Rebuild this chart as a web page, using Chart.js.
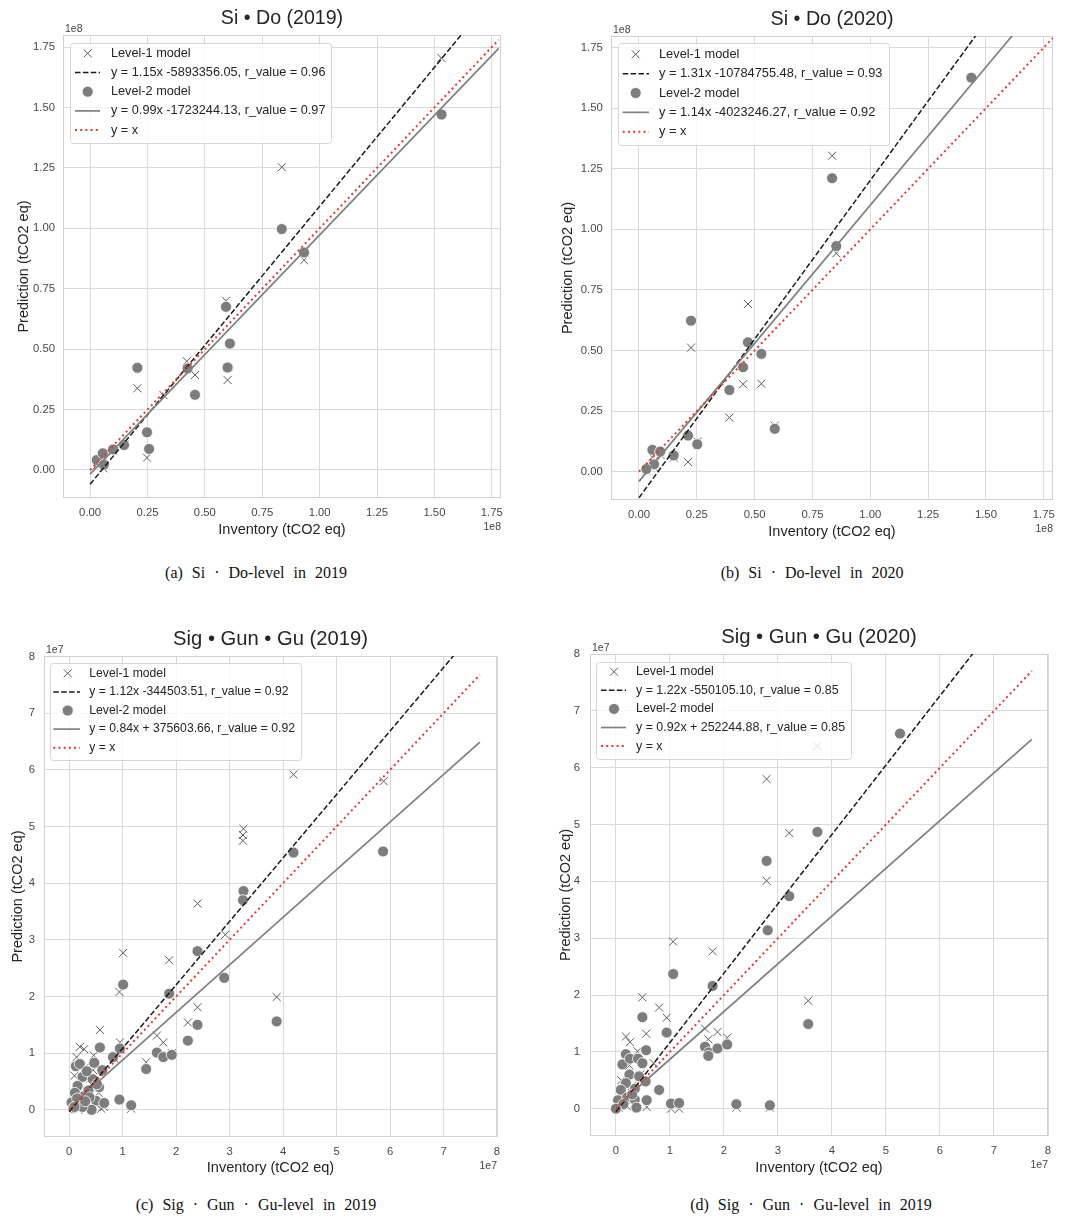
<!DOCTYPE html>
<html>
<head>
<meta charset="utf-8">
<script src="https://cdn.jsdelivr.net/npm/chart.js@4.4.1/dist/chart.umd.min.js"></script>
<style>
html,body{margin:0;padding:0;background:#fff;}
body{width:1074px;height:1224px;position:relative;overflow:hidden;}
canvas{position:absolute;}
.cap{position:absolute;width:500px;text-align:center;font-family:"Liberation Serif","Times New Roman",serif;font-size:16px;line-height:20px;color:#111;word-spacing:5px;white-space:pre;}
</style>
</head>
<body>
<canvas id="ca"></canvas>
<canvas id="cb"></canvas>
<canvas id="cc"></canvas>
<canvas id="cd"></canvas>
<div class="cap" style="left:6px;top:563px">(a) Si · Do-level in 2019</div>
<div class="cap" style="left:562px;top:563px">(b) Si · Do-level in 2020</div>
<div class="cap" style="left:6px;top:1195px">(c) Sig · Gun · Gu-level in 2019</div>
<div class="cap" style="left:561px;top:1195px">(d) Sig · Gun · Gu-level in 2019</div>
<script>
// ================= DATA =================
const seriesNames = ['Level-1 model', 'Level-2 model', 'y = x'];
const xAxisTitle = 'Inventory (tCO2 eq)';
const yAxisTitle = 'Prediction (tCO2 eq)';

// Tick values (display units)
const siDoTicks = [0, 0.25, 0.5, 0.75, 1.0, 1.25, 1.5, 1.75];   // x 1e8
const sggTicks  = [0, 1, 2, 3, 4, 5, 6, 7, 8];                   // x 1e7

// ---- (a) Si·Do 2019  (units of 1e8 tCO2 eq)
const a_L1_inv  = [1.530, 0.835, 0.932, 0.592, 0.599, 0.206, 0.421, 0.457, 0.248, 0.148, 0.058, 0.029, 0.055, 0.100, 0.320];
const a_L1_pred = [1.705, 1.253, 0.868, 0.700, 0.372, 0.338, 0.450, 0.393, 0.051, 0.105, 0.007, 0.020, 0.030, 0.080, 0.310];
const a_L2_inv  = [1.531, 0.835, 0.932, 0.592, 0.609, 0.599, 0.206, 0.425, 0.457, 0.248, 0.257, 0.148, 0.029, 0.055, 0.100, 0.060];
const a_L2_pred = [1.471, 0.997, 0.900, 0.675, 0.523, 0.424, 0.423, 0.420, 0.311, 0.156, 0.087, 0.103, 0.041, 0.069, 0.085, 0.022];
const a_slopes = [1.15, 0.99];                       // legend fit (Level-1, Level-2)
const a_intercepts = [-5893356.05, -1723244.13];
const a_r = [0.96, 0.97];

// ---- (b) Si·Do 2020  (units of 1e8 tCO2 eq)
const b_L1_inv  = [0.835, 0.853, 0.471, 0.225, 0.450, 0.529, 0.391, 0.587, 0.212, 0.252, 0.150, 0.058, 0.065, 0.032, 0.092];
const b_L1_pred = [1.304, 0.901, 0.692, 0.512, 0.361, 0.363, 0.223, 0.190, 0.040, 0.125, 0.058, 0.060, 0.018, 0.005, 0.070];
const b_L2_inv  = [1.437, 0.835, 0.853, 0.225, 0.471, 0.529, 0.450, 0.391, 0.587, 0.212, 0.252, 0.150, 0.058, 0.065, 0.032, 0.092];
const b_L2_pred = [1.626, 1.211, 0.931, 0.623, 0.534, 0.486, 0.431, 0.337, 0.177, 0.149, 0.113, 0.067, 0.090, 0.030, 0.011, 0.083];
const b_slopes = [1.31, 1.14];
const b_intercepts = [-10784755.48, -4023246.27];
const b_r = [0.93, 0.92];

// ---- (c) Sig·Gun·Gu 2019  (units of 1e7 tCO2 eq)
const c_L1_inv  = [4.195, 5.88, 3.26, 3.25, 3.25, 2.40, 2.92, 1.01, 0.94, 1.87, 2.40, 2.22, 3.88, 1.64, 1.76, 1.92, 1.44, 0.575, 0.95, 1.16,
                   0.14, 0.20, 0.28, 0.46, 0.10, 0.30, 0.40, 0.55, 0.65, 0.25, 0.35, 0.50, 0.20, 0.05, 0.15, 0.45, 0.60, 0.30, 0.12, 0.85];
const c_L1_pred = [5.92, 5.80, 4.96, 4.85, 4.75, 3.64, 3.09, 2.77, 2.08, 2.64, 1.81, 1.54, 1.99, 1.31, 1.19, 1.00, 0.84, 1.41, 1.19, 0.02,
                   0.93, 1.11, 1.07, 0.96, 0.60, 0.75, 0.55, 0.30, 0.05, 0.30, 0.20, 0.10, 0.45, 0.05, 0.15, 0.70, 0.02, 0.00, 0.25, 0.90];
const c_L2_inv  = [4.195, 5.87, 3.26, 3.25, 2.40, 2.90, 1.01, 1.87, 2.40, 2.22, 3.88, 1.64, 1.76, 1.92, 1.44, 0.575, 0.95, 0.82, 0.94, 1.16,
                   0.125, 0.20, 0.47, 0.25, 0.44, 0.56, 0.157, 0.107, 0.045, 0.20, 0.50, 0.655, 0.42, 0.29, 0.36, 0.08, 0.33, 0.15, 0.52, 0.38, 0.25, 0.10, 0.30, 0.62];
const c_L2_pred = [4.54, 4.56, 3.86, 3.70, 2.80, 2.33, 2.21, 2.05, 1.50, 1.22, 1.56, 1.01, 0.93, 0.97, 0.72, 1.10, 1.08, 0.93, 0.18, 0.08,
                   0.77, 0.81, 0.83, 0.58, 0.54, 0.40, 0.42, 0.30, 0.13, 0.11, 0.16, 0.12, 0.00, 0.25, 0.34, 0.03, 0.68, 0.20, 0.45, 0.22, 0.05, 0.05, 0.15, 0.70];
const c_slopes = [1.12, 0.84];
const c_intercepts = [-344503.51, 375603.66];
const c_r = [0.92, 0.92];

// ---- (d) Sig·Gun·Gu 2020  (units of 1e7 tCO2 eq)
const d_L1_inv  = [3.73, 2.79, 3.21, 2.79, 1.06, 1.79, 0.49, 0.80, 0.94, 0.56, 3.56, 1.65, 1.71, 1.88, 2.06, 2.23, 2.85, 1.02, 1.17, 0.57,
                   0.185, 0.26, 0.40, 0.25, 0.10, 0.30, 0.15, 0.45, 0.35, 0.05, 0.20, 0.70];
const d_L1_pred = [6.38, 5.80, 4.85, 4.01, 2.94, 2.77, 1.96, 1.78, 1.60, 1.32, 1.90, 1.41, 1.22, 1.35, 1.25, 0.02, 0.02, 0.00, 0.00, 0.03,
                   1.27, 1.17, 1.01, 0.76, 0.50, 0.40, 0.20, 0.60, 0.10, 0.02, 0.05, 0.80];
const d_L2_inv  = [5.26, 3.73, 2.79, 3.21, 2.81, 1.06, 1.79, 0.49, 0.80, 0.94, 0.56, 3.56, 1.65, 1.72, 1.71, 1.88, 2.06, 2.23, 2.85, 1.02,
                   1.17, 0.57, 0.185, 0.12, 0.26, 0.41, 0.49, 0.25, 0.43, 0.185, 0.09, 0.35, 0.04, 0.21, 0.35, 0.38, 0.14, 0.00, 0.30, 0.55];
const d_L2_pred = [6.60, 4.87, 4.36, 3.74, 3.14, 2.37, 2.16, 1.61, 0.33, 1.34, 1.03, 1.49, 1.09, 0.99, 0.93, 1.06, 1.13, 0.08, 0.06, 0.09,
                   0.10, 0.15, 0.96, 0.78, 0.88, 0.88, 0.80, 0.60, 0.57, 0.45, 0.33, 0.35, 0.15, 0.20, 0.16, 0.02, 0.08, 0.00, 0.25, 0.48];
const d_slopes = [1.22, 0.92];
const d_intercepts = [-550105.10, 252244.88];
const d_r = [0.85, 0.85];
// In panel (d) the solid Level-2 line drawn in the figure is shallower than its legend text:
const d_drawnSlopes = [1.22, 0.84];
const d_drawnIntercepts = [-550105.10, 300000];

// ================= RENDERING =================
const FONT = '"Liberation Sans", Arial, Helvetica, sans-serif';
Chart.defaults.font.family = FONT;

function pts(xs, ys) { return xs.map((x, i) => ({x: x, y: ys[i]})); }
function fitLabel(s, b, r) {
  const bs = b < 0 ? '-' + Math.abs(b).toFixed(2) : '+ ' + b.toFixed(2);
  return 'y = ' + s.toFixed(2) + 'x ' + bs + ', r_value = ' + r.toFixed(2);
}
function fitLine(s, b, unit, end) { return [{x: 0, y: b / unit}, {x: end, y: s * end + b / unit}]; }

const mplDecor = {
  id: 'mplDecor',
  beforeDatasetsDraw(chart) {
    const {ctx, chartArea: a} = chart;
    ctx.save();
    ctx.strokeStyle = '#d2d2d2'; ctx.lineWidth = 1;
    ctx.strokeRect(Math.round(a.left) + 0.5, Math.round(a.top) + 0.5, Math.round(a.right - a.left) - 1, Math.round(a.bottom - a.top) - 1);
    ctx.restore();
  },
  afterDraw(chart) {
    const o = chart.$decor;
    const {ctx, chartArea: a} = chart;
    ctx.save();
    ctx.fillStyle = '#262626';
    ctx.font = o.titleSize + 'px ' + FONT;
    ctx.textAlign = 'center'; ctx.textBaseline = 'middle';
    ctx.fillText(o.title, (a.left + a.right) / 2, a.top - 16.5);
    ctx.font = '10.5px ' + FONT; ctx.fillStyle = '#444';
    ctx.textAlign = 'left';
    ctx.fillText(o.offsetText, a.left + 2, a.top - 6);
    ctx.textAlign = 'right';
    ctx.fillText(o.offsetText, a.right, a.bottom + 29);
    const L = o.legend;
    const ds = chart.data.datasets;
    ctx.font = L.size + 'px ' + FONT;
    let maxW = 0;
    ds.forEach(d => { maxW = Math.max(maxW, ctx.measureText(d.label).width); });
    const bx = a.left + L.boxDx, by = a.top + L.boxDy;
    const tx = a.left + L.textDx;
    const bw = tx + maxW + 6 - bx;
    const lastRow = a.top + L.row0 + L.rowH * (ds.length - 1);
    const bh = lastRow + L.rowH * 0.68 - by;
    ctx.beginPath();
    if (ctx.roundRect) ctx.roundRect(Math.round(bx) + 0.5, Math.round(by) + 0.5, Math.round(bw), Math.round(bh), 3);
    else ctx.rect(Math.round(bx) + 0.5, Math.round(by) + 0.5, Math.round(bw), Math.round(bh));
    ctx.fillStyle = 'rgba(255,255,255,0.8)'; ctx.fill();
    ctx.strokeStyle = '#d6d6d6'; ctx.lineWidth = 1; ctx.stroke();
    ds.forEach((d, i) => {
      const y = a.top + L.row0 + L.rowH * i;
      const mx = a.left + L.markerDx;
      ctx.setLineDash([]);
      if (d.legendKind === 'cross') {
        const h = 4;
        ctx.strokeStyle = d.pointBorderColor; ctx.lineWidth = 1;
        ctx.beginPath();
        ctx.moveTo(mx - h, y - h); ctx.lineTo(mx + h, y + h);
        ctx.moveTo(mx + h, y - h); ctx.lineTo(mx - h, y + h);
        ctx.stroke();
      } else if (d.legendKind === 'circle') {
        ctx.beginPath(); ctx.arc(mx, y, d.pointRadius, 0, Math.PI * 2);
        ctx.fillStyle = d.pointBackgroundColor; ctx.fill();
        ctx.strokeStyle = '#fff'; ctx.lineWidth = 0.8; ctx.stroke();
      } else {
        ctx.strokeStyle = d.borderColor; ctx.lineWidth = d.borderWidth;
        ctx.setLineDash(d.borderDash || []);
        ctx.beginPath();
        ctx.moveTo(a.left + L.h0, y); ctx.lineTo(a.left + L.h1, y);
        ctx.stroke();
        ctx.setLineDash([]);
      }
      ctx.fillStyle = '#262626'; ctx.textAlign = 'left'; ctx.textBaseline = 'middle';
      ctx.font = L.size + 'px ' + FONT;
      ctx.fillText(d.label, tx, y);
    });
    ctx.restore();
  }
};

function makeChart(p) {
  const g = p.geo;
  const cv = document.getElementById(p.id);
  cv.width = g.cw; cv.height = g.ch;
  cv.style.left = g.cx + 'px'; cv.style.top = g.cy + 'px';
  cv.style.width = g.cw + 'px'; cv.style.height = g.ch + 'px';
  const axisFont = 14.5, lh = axisFont * 1.2;
  const tickFont = {size: 11.3, family: FONT};
  const dec = p.decimals;
  const ls = p.lineSlopes || p.slopes, li = p.lineIntercepts || p.intercepts;
  return new Chart(cv, {
    type: 'scatter',
    data: {
      datasets: [
        {label: seriesNames[0], legendKind: 'cross', data: pts(p.l1x, p.l1y),
         pointStyle: 'crossRot', pointRadius: 5.7, pointHoverRadius: 5.7, pointBorderWidth: 1,
         pointBorderColor: '#5e5e5e', pointBackgroundColor: 'rgba(0,0,0,0)', order: 5},
        {label: fitLabel(p.slopes[0], p.intercepts[0], p.r[0]), legendKind: 'line',
         data: fitLine(ls[0], li[0], p.unit, p.lineEnd), showLine: true,
         borderColor: '#1a1a1a', borderWidth: 1.5, borderDash: [5.5, 2.4], pointRadius: 0, pointHoverRadius: 0, order: 3},
        {label: seriesNames[1], legendKind: 'circle', data: pts(p.l2x, p.l2y),
         pointStyle: 'circle', pointRadius: 5.5, pointHoverRadius: 5.5, pointBorderWidth: 0.8,
         pointBorderColor: '#ffffff', pointBackgroundColor: '#7d7d7d', order: 4},
        {label: fitLabel(p.slopes[1], p.intercepts[1], p.r[1]), legendKind: 'line',
         data: fitLine(ls[1], li[1], p.unit, p.lineEnd), showLine: true,
         borderColor: '#808080', borderWidth: 1.7, pointRadius: 0, pointHoverRadius: 0, order: 2},
        {label: seriesNames[2], legendKind: 'line',
         data: [{x: 0, y: 0}, {x: p.lineEnd, y: p.lineEnd}], showLine: true,
         borderColor: '#e23b33', borderWidth: 2, borderDash: [2, 3.2], pointRadius: 0, pointHoverRadius: 0, order: 1}
      ]
    },
    options: {
      responsive: false, animation: false, devicePixelRatio: 1,
      events: [],
      layout: {padding: {left: 0, top: g.T - g.cy, right: g.cx + g.cw - g.R, bottom: 0}},
      plugins: {legend: {display: false}, tooltip: {enabled: false}, title: {display: false}},
      scales: {
        x: {
          type: 'linear', min: p.xRange[0], max: p.xRange[1],
          afterBuildTicks: s => { s.ticks = p.ticks.map(v => ({value: v})); },
          afterFit: s => { s.height = g.cy + g.ch - g.B; },
          grid: {color: '#dadada', lineWidth: 1, drawTicks: false},
          border: {display: false},
          ticks: {font: tickFont, color: '#4a4a4a', padding: g.xTickPad, autoSkip: false, maxRotation: 0,
                  callback: v => Number(v).toFixed(dec)},
          title: {display: true, text: xAxisTitle, color: '#262626', font: {size: axisFont, family: FONT},
                  padding: {top: 0, bottom: g.cy + g.ch - lh / 2 - g.xTitleY}}
        },
        y: {
          type: 'linear', min: p.yRange[0], max: p.yRange[1],
          afterBuildTicks: s => { s.ticks = p.ticks.map(v => ({value: v})); },
          afterFit: s => { s.width = g.L - g.cx; },
          grid: {color: '#dadada', lineWidth: 1, drawTicks: false},
          border: {display: false},
          ticks: {font: tickFont, color: '#4a4a4a', padding: g.yTickPad, autoSkip: false,
                  callback: v => Number(v).toFixed(dec)},
          title: {display: true, text: yAxisTitle, color: '#262626', font: {size: axisFont, family: FONT},
                  padding: {top: g.yTitleX - g.cx - lh / 2, bottom: 0}}
        }
      }
    },
    plugins: [{id: 'decorInit', beforeInit(c) { c.$decor = p.decor; }}, mplDecor]
  });
}

makeChart({
  id: 'ca', unit: 1e8, decimals: 2, ticks: siDoTicks, lineEnd: 1.78,
  xRange: [-0.118, 1.79], yRange: [-0.116, 1.80],
  l1x: a_L1_inv, l1y: a_L1_pred, l2x: a_L2_inv, l2y: a_L2_pred,
  slopes: a_slopes, intercepts: a_intercepts, r: a_r,
  geo: {cx: 0, cy: 0, cw: 537, ch: 545, L: 63, T: 35, R: 501, B: 498, yTitleX: 24, xTitleY: 530, xTickPad: 8.5, yTickPad: 8},
  decor: {title: 'Si • Do (2019)', titleSize: 19.6, offsetText: '1e8',
          legend: {size: 12.7, boxDx: 7, boxDy: 8, row0: 18.3, rowH: 19.2, markerDx: 24.7, h0: 12, h1: 37, textDx: 48}}
});
makeChart({
  id: 'cb', unit: 1e8, decimals: 2, ticks: siDoTicks, lineEnd: 1.79,
  xRange: [-0.121, 1.79], yRange: [-0.117, 1.798],
  l1x: b_L1_inv, l1y: b_L1_pred, l2x: b_L2_inv, l2y: b_L2_pred,
  slopes: b_slopes, intercepts: b_intercepts, r: b_r,
  geo: {cx: 540, cy: 0, cw: 534, ch: 545, L: 611, T: 36, R: 1053, B: 500, yTitleX: 568, xTitleY: 531.7, xTickPad: 8.2, yTickPad: 8.3},
  decor: {title: 'Si • Do (2020)', titleSize: 19.7, offsetText: '1e8',
          legend: {size: 12.8, boxDx: 6.7, boxDy: 7.3, row0: 18.3, rowH: 19.35, markerDx: 24.7, h0: 11.7, h1: 38, textDx: 48}}
});
makeChart({
  id: 'cc', unit: 1e7, decimals: 0, ticks: sggTicks, lineEnd: 7.68,
  xRange: [-0.47, 8.0], yRange: [-0.48, 8.01],
  l1x: c_L1_inv, l1y: c_L1_pred, l2x: c_L2_inv, l2y: c_L2_pred,
  slopes: c_slopes, intercepts: c_intercepts, r: c_r,
  geo: {cx: 0, cy: 610, cw: 537, ch: 575, L: 44, T: 656, R: 497, B: 1137, yTitleX: 17.5, xTitleY: 1168.3, xTickPad: 7.9, yTickPad: 9},
  decor: {title: 'Sig • Gun • Gu (2019)', titleSize: 20.2, offsetText: '1e7',
          legend: {size: 12.2, boxDx: 6, boxDy: 7.3, row0: 17.3, rowH: 18.6, markerDx: 23.7, h0: 9.3, h1: 36, textDx: 45.3}}
});
makeChart({
  id: 'cd', unit: 1e7, decimals: 0, ticks: sggTicks, lineEnd: 7.70,
  xRange: [-0.48, 8.0], yRange: [-0.48, 8.0],
  l1x: d_L1_inv, l1y: d_L1_pred, l2x: d_L2_inv, l2y: d_L2_pred,
  slopes: d_slopes, intercepts: d_intercepts, r: d_r,
  lineSlopes: d_drawnSlopes, lineIntercepts: d_drawnIntercepts,
  geo: {cx: 540, cy: 610, cw: 534, ch: 575, L: 590, T: 654, R: 1048, B: 1136, yTitleX: 565.8, xTitleY: 1167.7, xTickPad: 7.9, yTickPad: 10},
  decor: {title: 'Sig • Gun • Gu (2020)', titleSize: 20.3, offsetText: '1e7',
          legend: {size: 12.4, boxDx: 6, boxDy: 7.7, row0: 17.7, rowH: 18.6, markerDx: 24, h0: 11, h1: 36, textDx: 46}}
});
</script>
</body>
</html>
